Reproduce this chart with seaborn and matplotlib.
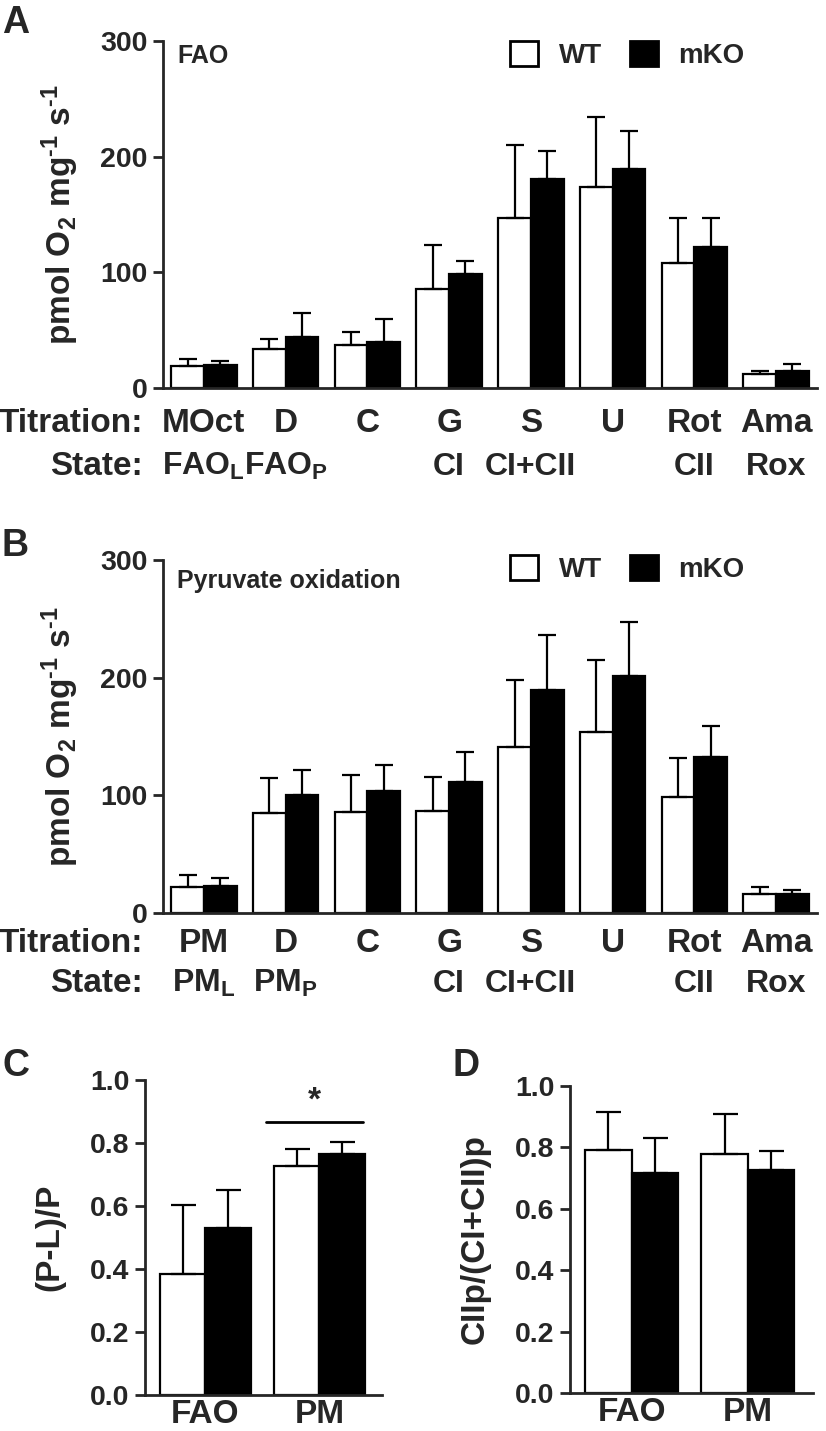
import numpy as np
import pandas as pd
import seaborn as sns
import matplotlib.pyplot as plt
from matplotlib.patches import Patch
from matplotlib.ticker import FormatStrFormatter

# Data (bar height = mean, error = upper SD)
genotypes = ['WT', 'mKO']

titration_fao = ['MOct', 'D', 'C', 'G', 'S', 'U', 'Rot', 'Ama']
state_fao = [r'FAO$_\mathrm{L}$', r'FAO$_\mathrm{P}$', '', 'CI', 'CI+CII', '', 'CII', 'Rox']
fao_wt = [18.7, 33.6, 37.4, 86.0, 146.6, 174.0, 108.0, 11.8]
fao_wt_sd = [6.3, 8.4, 10.6, 37.6, 63.4, 60.0, 39.0, 3.2]
fao_ko = [20.0, 44.5, 39.4, 98.6, 180.5, 189.0, 122.0, 14.4]
fao_ko_sd = [3.0, 20.5, 20.6, 11.4, 24.5, 33.0, 25.0, 6.3]

titration_pm = ['PM', 'D', 'C', 'G', 'S', 'U', 'Rot', 'Ama']
state_pm = [r'PM$_\mathrm{L}$', r'PM$_\mathrm{P}$', '', 'CI', 'CI+CII', '', 'CII', 'Rox']
pm_wt = [22.3, 85.3, 86.0, 87.0, 141.0, 154.0, 99.0, 16.0]
pm_wt_sd = [10.2, 29.7, 31.0, 29.0, 57.0, 61.0, 33.0, 5.8]
pm_ko = [23.0, 100.6, 103.4, 111.6, 189.5, 201.7, 132.5, 15.8]
pm_ko_sd = [7.0, 21.0, 22.0, 25.4, 46.5, 45.3, 26.5, 3.7]

substrates = ['FAO', 'PM']
coupling_wt = [0.384, 0.728]
coupling_wt_sd = [0.218, 0.054]
coupling_ko = [0.531, 0.766]
coupling_ko_sd = [0.119, 0.036]

cii_wt = [0.790, 0.778]
cii_wt_sd = [0.124, 0.131]
cii_ko = [0.715, 0.725]
cii_ko_sd = [0.115, 0.063]

sns.set_style('ticks')
plt.rcParams['font.family'] = ['Liberation Sans', 'DejaVu Sans']
plt.rcParams['font.weight'] = 'bold'
plt.rcParams['axes.labelweight'] = 'bold'
plt.rcParams['mathtext.fontset'] = 'custom'
plt.rcParams['mathtext.rm'] = 'Liberation Sans:bold'
plt.rcParams['mathtext.bf'] = 'Liberation Sans:bold'
plt.rcParams['mathtext.it'] = 'Liberation Sans:bold:italic'
plt.rcParams['axes.linewidth'] = 2

W, H = 826, 1431
fig = plt.figure(figsize=(W / 100, H / 100), dpi=100)


def px_axes(left, top, right, bottom):
    return fig.add_axes([left / W, 1 - bottom / H, (right - left) / W, (bottom - top) / H])


def draw_bars(ax, cats, wt, ko, wt_sd, ko_sd, capsize):
    df = pd.DataFrame({'cat': cats + cats,
                       'geno': ['WT'] * len(cats) + ['mKO'] * len(cats),
                       'val': wt + ko})
    sns.barplot(data=df, x='cat', y='val', hue='geno', order=cats, hue_order=genotypes,
                palette={'WT': 'white', 'mKO': 'black'}, edgecolor='black', linewidth=1.6,
                saturation=1, errorbar=None, legend=False, width=0.8, ax=ax)
    for cont, sd in zip(ax.containers, [wt_sd, ko_sd]):
        xs = [b.get_x() + b.get_width() / 2 for b in cont]
        ys = [b.get_height() for b in cont]
        ax.errorbar(xs, ys, yerr=[np.zeros(len(sd)), sd], fmt='none', ecolor='black',
                    elinewidth=1.6, capsize=capsize, capthick=1.6, zorder=3, clip_on=False)
    ax.set_xlabel('')
    ax.tick_params(axis='y', width=2, length=7, labelsize=20.5, pad=4)
    ax.tick_params(axis='x', length=0)
    sns.despine(ax=ax)


def style_top_panel(ax, titration, state, tit_off, state_off, note, note_y, leg_y):
    ax.set_xlim(-0.5, 7.5)
    ax.set_ylim(0, 300)
    ax.set_yticks([0, 100, 200, 300])
    ax.set_xticks(range(len(titration)))
    ax.set_xticklabels([])
    ax.set_ylabel('pmol O$_\\mathrm{2}$ mg$^\\mathrm{\u20101}$ s$^\\mathrm{\u20101}$',
                  fontsize=24, labelpad=14)
    for i, (t, s) in enumerate(zip(titration, state)):
        ax.annotate(t, xy=(i, 0), xycoords=('data', 'axes fraction'), xytext=(0, -tit_off),
                    textcoords='offset pixels', ha='center', va='baseline', fontsize=24)
        ax.annotate(s, xy=(i, 0), xycoords=('data', 'axes fraction'), xytext=(0, -state_off),
                    textcoords='offset pixels', ha='center', va='baseline', fontsize=23)
    ax.annotate('Titration:', xy=(0, 0), xycoords='axes fraction', xytext=(-20, -tit_off),
                textcoords='offset pixels', ha='right', va='baseline', fontsize=24)
    ax.annotate('State:', xy=(0, 0), xycoords='axes fraction', xytext=(-20, -state_off),
                textcoords='offset pixels', ha='right', va='baseline', fontsize=24)
    ax.text(0.022, note_y, note, transform=ax.transAxes, fontsize=18, va='baseline')
    handles = [Patch(facecolor='white', edgecolor='black', linewidth=2),
               Patch(facecolor='black', edgecolor='black', linewidth=2)]
    ax.legend(handles, genotypes, ncol=2, frameon=False, loc='upper left',
              bbox_to_anchor=(0.531, leg_y), borderaxespad=0, borderpad=0,
              handlelength=1.0, handleheight=1.0, handletextpad=0.75,
              columnspacing=1.0, fontsize=20)


# Panel A
axA = px_axes(163, 41, 817, 388)
draw_bars(axA, titration_fao, fao_wt, fao_ko, fao_wt_sd, fao_ko_sd, capsize=6.5)
style_top_panel(axA, titration_fao, state_fao, 44, 87, 'FAO', 0.937, 1.0)

# Panel B
axB = px_axes(163, 560, 817, 913)
draw_bars(axB, titration_pm, pm_wt, pm_ko, pm_wt_sd, pm_ko_sd, capsize=6.5)
style_top_panel(axB, titration_pm, state_pm, 39, 79, 'Pyruvate oxidation', 0.92, 1.014)

# Panel C
axC = px_axes(145, 1080, 382, 1395)
draw_bars(axC, substrates, coupling_wt, coupling_ko, coupling_wt_sd, coupling_ko_sd, capsize=9)
axC.set_xlim(-0.53, 1.55)
axC.set_ylabel('(P-L)/P', fontsize=24, labelpad=18)

# significance bar over the PM pair
wt_bar = axC.containers[0][1]
ko_bar = axC.containers[1][1]
sig_y = coupling_ko[1] + coupling_ko_sd[1] + 0.065
x0 = wt_bar.get_x() - 0.07
x1 = ko_bar.get_x() + ko_bar.get_width() - 0.02
axC.plot([x0, x1], [sig_y, sig_y], color='black', lw=2, clip_on=False)
axC.text((x0 + x1) / 2, sig_y + 0.065, '*', ha='center', va='center', fontsize=24)

# Panel D
axD = px_axes(570, 1086, 813, 1393)
draw_bars(axD, substrates, cii_wt, cii_ko, cii_wt_sd, cii_ko_sd, capsize=9)
axD.set_xlim(-0.53, 1.56)
axD.set_ylabel('CIIp/(CI+CII)p', fontsize=24, labelpad=18)

for ax in (axC, axD):
    ax.set_ylim(0, 1.0)
    ax.set_yticks(np.arange(0, 1.01, 0.2))
    ax.yaxis.set_major_formatter(FormatStrFormatter('%.1f'))
    ax.tick_params(axis='x', labelsize=24, pad=3)

# Panel letters
for letter, x, y in [('A', 2, 5), ('B', 2, 528), ('C', 2, 1048), ('D', 452, 1048)]:
    fig.text(x / W, 1 - y / H, letter, fontsize=27, va='top', ha='left')

fig.savefig('out.png', dpi=100)
